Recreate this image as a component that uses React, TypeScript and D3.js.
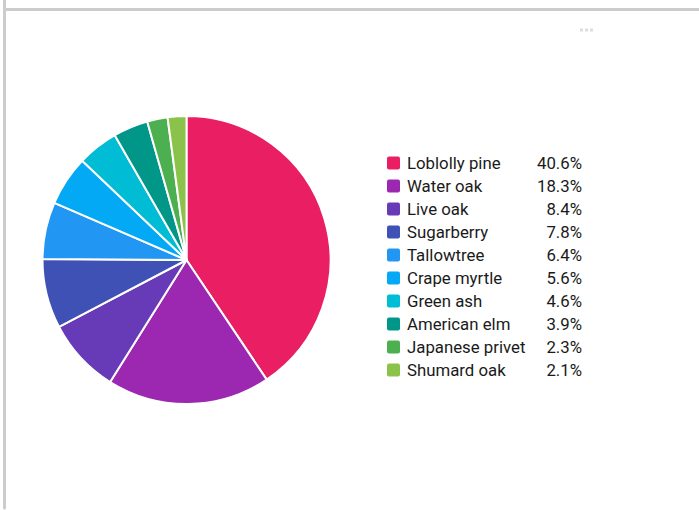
import React from "react";
import * as d3 from "d3";

const species = [
  "Loblolly pine",
  "Water oak",
  "Live oak",
  "Sugarberry",
  "Tallowtree",
  "Crape myrtle",
  "Green ash",
  "American elm",
  "Japanese privet",
  "Shumard oak",
];
const shares = [40.6, 18.3, 8.4, 7.8, 6.4, 5.6, 4.6, 3.9, 2.3, 2.1];
const colors = [
  "#E91E63",
  "#9C27B0",
  "#673AB7",
  "#3F51B5",
  "#2196F3",
  "#03A9F4",
  "#00BCD4",
  "#009688",
  "#4CAF50",
  "#8BC34A",
];

const W = 699;
const H = 510;
const cx = 186.5;
const cy = 260;
const R = 144;

export default function App() {
  const data = species.map((name, i) => ({ name, value: shares[i], color: colors[i] }));
  const pie = d3
    .pie<any>()
    .sort(null)
    .value((d: any) => d.value);
  const arcs = pie(data);
  const arcGen = d3.arc<any>().innerRadius(0).outerRadius(R);
  const legendY = d3
    .scaleBand<string>()
    .domain(species)
    .range([151.5, 381.5]);
  const font = "Roboto, 'Noto Sans', sans-serif";
  return (
    <svg
      width={W}
      height={H}
      style={{ position: "absolute", left: 0, top: 0, background: "#fff" }}
    >
      <rect x={0} y={0} width={W} height={H} fill="#fff" />
      <line x1={4.5} y1={0} x2={4.5} y2={508} stroke="#cccccc" strokeWidth={3} strokeLinecap="round" />
      <line x1={4.5} y1={9.5} x2={W} y2={9.5} stroke="#cccccc" strokeWidth={3} />
      <g fill="#dddddd">
        {[0, 1, 2].map((i) => (
          <rect key={i} x={580 + i * 5} y={28.5} width={3} height={3} />
        ))}
      </g>
      <g transform={`translate(${cx},${cy})`}>
        {arcs.map((a, i) => (
          <path key={i} d={arcGen(a) as string} fill={a.data.color} stroke="#fff" strokeWidth={2} strokeLinejoin="round" />
        ))}
      </g>
      <g fontFamily={font} fontSize={16.8} fill="#1a1a1a">
        {data.map((d) => {
          const y = (legendY(d.name) as number) + legendY.bandwidth() / 2;
          return (
            <g key={d.name}>
              <rect x={387} y={y - 6.5} width={13} height={13} rx={2} fill={d.color} />
              <text x={407} y={y} dominantBaseline="central">
                {d.name}
              </text>
              <text x={582} y={y} dominantBaseline="central" textAnchor="end">
                {d.value.toFixed(1)}%
              </text>
            </g>
          );
        })}
      </g>
    </svg>
  );
}
